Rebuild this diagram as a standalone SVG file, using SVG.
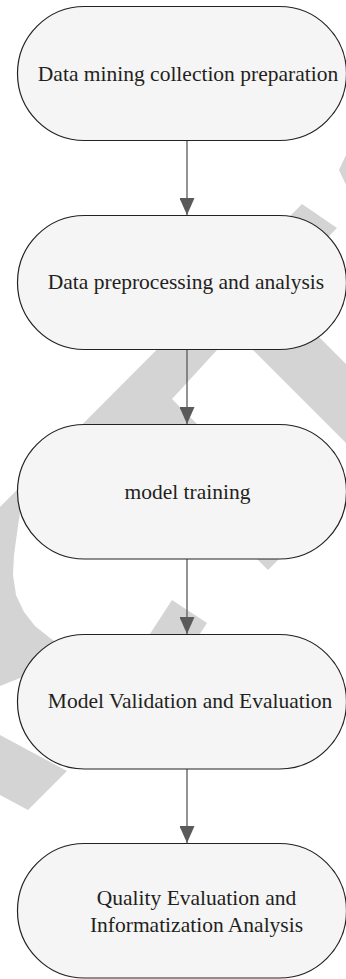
<svg xmlns="http://www.w3.org/2000/svg" width="346" height="979" viewBox="0 0 346 979">
<defs>
<style>
.wm{fill:#d4d4d4;stroke:none}
.node rect{fill:#f5f5f5;stroke:#222;stroke-width:1.2}
.node text{font-family:"Liberation Serif","Times New Roman",serif;font-size:21.5px;fill:#231f20;text-anchor:middle}
.conn line{stroke:#5a5a5a;stroke-width:1.3}
</style>
<marker id="ah" viewBox="0 0 17 15" refX="17" refY="7.5" markerWidth="17" markerHeight="15" markerUnits="userSpaceOnUse" orient="auto">
<path d="M0,0 L17,7.5 L0,15 Z" fill="#5a5a5a"/>
</marker>
</defs>
<rect width="346" height="979" fill="#ffffff"/>
<g id="watermark">
<polygon class="wm" points="346,155 339,170 346,185"/>
<path class="wm" d="M302,204 L337,228 L217,350 L172,399 L240,467 L120,520 L20,513 L17,533 L14,555 L13,575 L16,595 L24,612 L35,626 L50,638 L67,650 L100,665 L30,674 L0,686 L0,507 Z"/>
<polygon class="wm" points="215,312 253,350 346,443 346,364 331,349 290,308"/>
<polygon class="wm" points="250,552 268,570 290,548 270,530"/>
<polygon class="wm" points="172,600 207,623 196,640 146,640"/>
<polygon class="wm" points="0,735 67,771 28,810 0,795"/>
</g>
<g id="connectors" class="conn">
<line x1="187" y1="140" x2="187" y2="215" marker-end="url(#ah)"/>
<line x1="187" y1="349" x2="187" y2="424" marker-end="url(#ah)"/>
<line x1="187" y1="559" x2="187" y2="634" marker-end="url(#ah)"/>
<line x1="187" y1="769" x2="187" y2="843" marker-end="url(#ah)"/>
</g>
<g id="n1" class="node">
<rect x="17.5" y="6.5" width="329" height="134" rx="67" ry="67"/>
<text x="188" y="81">Data mining collection preparation</text>
</g>
<g id="n2" class="node">
<rect x="17.5" y="215.5" width="329" height="134" rx="67" ry="67"/>
<text x="186" y="289">Data preprocessing and analysis</text>
</g>
<g id="n3" class="node">
<rect x="17.5" y="424.5" width="329" height="134.5" rx="67" ry="67"/>
<text x="187.5" y="499">model training</text>
</g>
<g id="n4" class="node">
<rect x="17.5" y="634.5" width="329" height="134.5" rx="67" ry="67"/>
<text x="190" y="708">Model Validation and Evaluation</text>
</g>
<g id="n5" class="node">
<rect x="17.5" y="843.5" width="329" height="134.5" rx="67" ry="67"/>
<text x="196.5" y="905">Quality Evaluation and</text>
<text x="196.5" y="932">Informatization Analysis</text>
</g>
</svg>
